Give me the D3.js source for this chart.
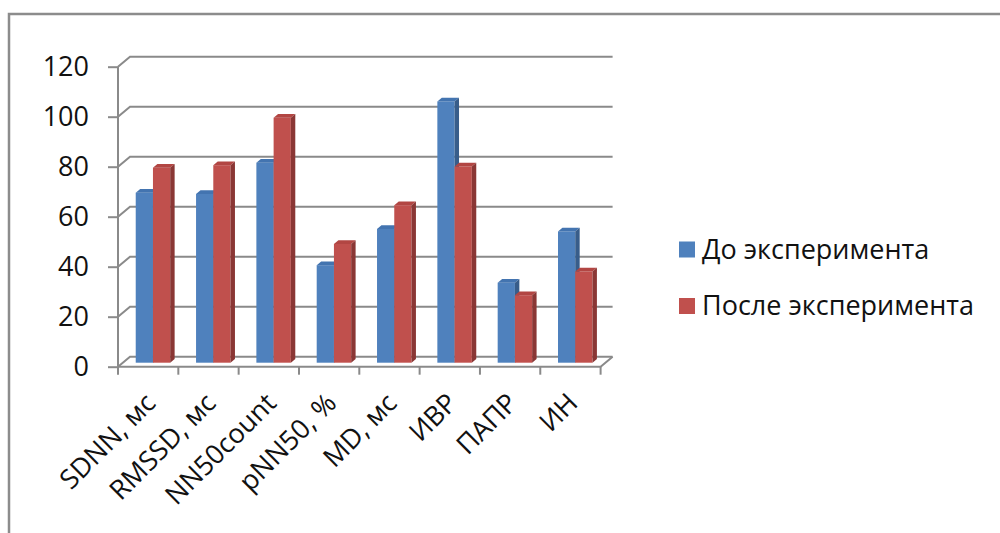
<!DOCTYPE html>
<html><head><meta charset="utf-8">
<script src="https://cdn.jsdelivr.net/npm/d3@7"></script>
<style>body{margin:0;background:#fff} svg text{font-family:"Open Sans",sans-serif;fill:#111;}</style>
</head><body><svg id="c" width="1000" height="533"></svg>
<script>
const categories = ["SDNN, мс","RMSSD, мс","NN50count","pNN50, %","MD, мс","ИВР","ПАПР","ИН"];
const seriesNames = ["До эксперимента","После эксперимента"];
const beforeValues = [68,67.5,80,39,53.5,104.5,32,52.5];
const afterValues = [78,79,98,47.5,63,78.5,27,36.5];
const yTicks = [0,20,40,60,80,100,120];

const seriesValues = [beforeValues, afterValues];
const faceColors = [
  {front:"#4F81BD", top:"#4374B0", side:"#385D8A"},
  {front:"#C0504D", top:"#B24643", side:"#8A3735"}
];
const svg = d3.select("#c");
const DX = 12, DY = 10, D0 = 0.4, D1 = 0.77;
const xLeft = 118, xRight = 600.6;
const x0 = d3.scaleBand().domain(categories).range([xLeft, xRight]).paddingInner(1.5/3.5).paddingOuter(0.75/3.5);
const x1 = d3.scaleBand().domain(seriesNames).range([0, x0.bandwidth()]);
const y = d3.scaleLinear().domain([0,120]).range([366.7,66.7]);
const P = (x, v, d) => [x + DX*d, y(v) - DY*d];
const gridColor = "#8a8a8a";
const FS = 27;

// outer border
svg.append("path").attr("d","M9,533V14H1000").attr("fill","none").attr("stroke","#8c8c8c").attr("stroke-width",2.5);

// gridlines on back wall + side diagonals
const g = svg.append("g").attr("fill","none").attr("stroke",gridColor).attr("stroke-width",2);
yTicks.forEach(v => {
  const a = [xLeft, y(v)], b = P(xLeft, v, 1), c = P(xRight, v, 1);
  g.append("path").attr("d", `M${a}L${b}L${c}`);
});
// floor front + right diagonal
g.append("path").attr("d", `M${[xLeft,y(0)]}L${[xRight,y(0)]}L${P(xRight,0,1)}`);

// bars
const bars = svg.append("g");
categories.forEach((cat, i) => {
  seriesNames.forEach((s, k) => {
    const v = seriesValues[k][i];
    const xl = x0(cat) + x1(s), xr = xl + x1.bandwidth();
    const col = faceColors[k];
    const f1 = P(xl, v, D0), f2 = P(xr, 0, D0);
    bars.append("rect").attr("x", f1[0]).attr("y", f1[1]).attr("width", f2[0]-f1[0]).attr("height", f2[1]-f1[1]).attr("fill", col.front);
    bars.append("polygon").attr("points", [P(xl,v,D0),P(xr,v,D0),P(xr,v,D1),P(xl,v,D1)].join(" ")).attr("fill", col.top);
    bars.append("polygon").attr("points", [P(xr,v,D0),P(xr,v,D1),P(xr,0,D1),P(xr,0,D0)].join(" ")).attr("fill", col.side);
  });
});

// y axis
const yAxis = svg.append("g").attr("transform", `translate(${xLeft},0)`)
  .call(d3.axisLeft(y).tickValues(yTicks).tickSize(10).tickPadding(19).tickFormat(d3.format("d")));
yAxis.selectAll("path,line").attr("stroke", gridColor).attr("stroke-width", 2);
yAxis.select(".domain").attr("d", `M0,${y(120)}V${y(0)}`);
yAxis.selectAll("text").attr("font-size", FS).attr("font-family", "Open Sans").attr("fill","#111");

// x axis boundary ticks
const step = x0.step();
const bt = svg.append("g").attr("stroke", gridColor).attr("stroke-width", 2);
d3.range(categories.length + 1).forEach(i => {
  const xx = xLeft + i*step;
  bt.append("line").attr("x1", xx).attr("x2", xx).attr("y1", y(0)).attr("y2", y(0)+8);
});
// x labels
const xl = svg.append("g").attr("transform", `translate(0,${y(0)})`)
  .call(d3.axisBottom(x0).tickSize(0).tickPadding(0));
xl.select(".domain").remove();
xl.selectAll("text")
  .attr("font-size", FS).attr("font-family", "Open Sans").attr("fill","#111")
  .attr("text-anchor", "end").attr("dy", null).attr("y", null)
  .attr("transform", "translate(9,38) rotate(-45)");

// legend
const leg = svg.append("g");
seriesNames.forEach((s, k) => {
  const cy = 249.5 + k*56.5;
  leg.append("rect").attr("x", 679).attr("y", cy-8).attr("width", 16).attr("height", 16).attr("fill", faceColors[k].front);
  leg.append("text").attr("x", 702).attr("y", cy).attr("dy", "0.35em").attr("font-size", FS).text(s);
});
</script></body></html>
